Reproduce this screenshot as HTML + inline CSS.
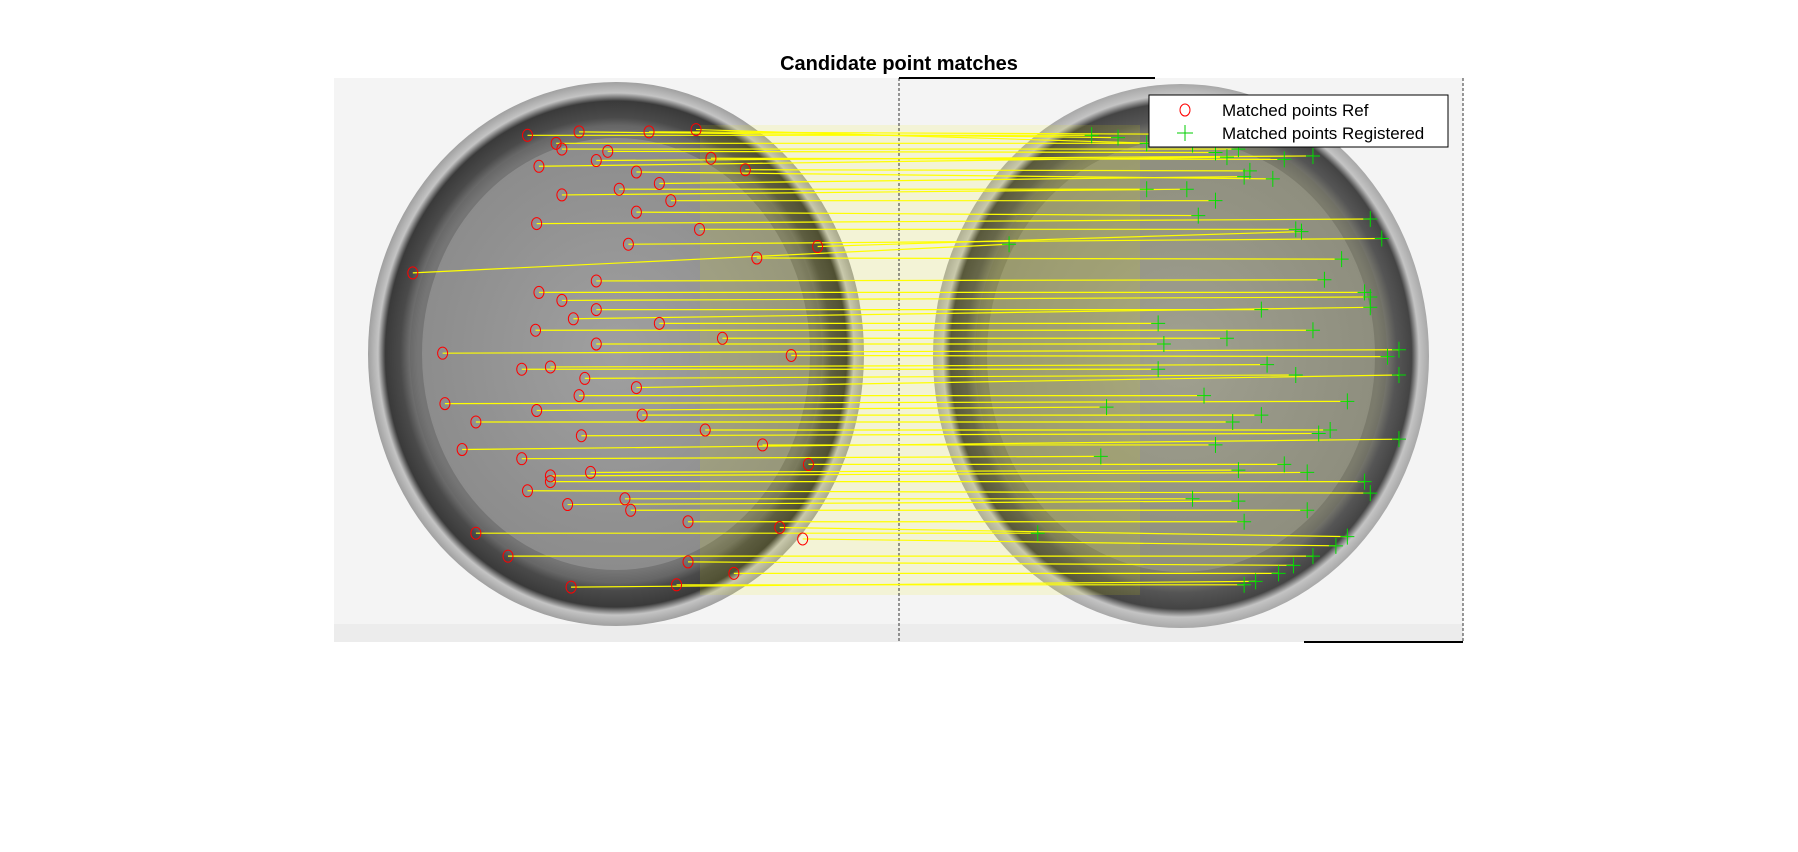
<!DOCTYPE html>
<html><head><meta charset="utf-8"><style>
html,body{margin:0;padding:0;background:#fff;width:1798px;height:852px;overflow:hidden;font-family:"Liberation Sans",Arial,sans-serif}
</style></head><body>
<svg width="1798" height="852" viewBox="0 0 1798 852">
<defs>
<radialGradient id="coinL" cx="0.5" cy="0.5" r="0.5">
<stop offset="0" stop-color="#a0a0a0"/><stop offset="0.8" stop-color="#8c8c8c"/><stop offset="0.87" stop-color="#4a4a4a"/><stop offset="0.93" stop-color="#3a3a3a"/><stop offset="0.96" stop-color="#c4c4c4"/><stop offset="1" stop-color="#a0a0a0"/>
</radialGradient>
<radialGradient id="coinR" cx="0.5" cy="0.5" r="0.5">
<stop offset="0" stop-color="#a0a090"/><stop offset="0.8" stop-color="#8e8e7e"/><stop offset="0.87" stop-color="#555"/><stop offset="0.93" stop-color="#444"/><stop offset="0.96" stop-color="#c4c4c4"/><stop offset="1" stop-color="#a8a8a8"/>
</radialGradient>
</defs>
<text x="899" y="70" text-anchor="middle" font-size="20" font-weight="bold" fill="#000">Candidate point matches</text>
<g>
<rect x="334" y="78" width="1129" height="564" fill="#f4f4f4"/>
<rect x="334" y="624" width="1129" height="18" fill="#ececec"/>
<ellipse cx="616" cy="354" rx="248" ry="272" fill="url(#coinL)"/>
<ellipse cx="616" cy="354" rx="200" ry="222" fill="none" stroke="#666" stroke-width="12" opacity="0.6"/>
<ellipse cx="1181" cy="356" rx="248" ry="272" fill="url(#coinR)"/>
<ellipse cx="1181" cy="356" rx="200" ry="222" fill="none" stroke="#6e6e60" stroke-width="12" opacity="0.6"/>
<rect x="700" y="125" width="440" height="470" fill="#f0f000" opacity="0.12"/>
<line x1="899" y1="78" x2="899" y2="642" stroke="#333" stroke-dasharray="3,2"/>
<line x1="1463" y1="78" x2="1463" y2="642" stroke="#333" stroke-dasharray="3,2"/>
<line x1="899" y1="78" x2="1155" y2="78" stroke="#000" stroke-width="2"/>
<line x1="1304" y1="642" x2="1463" y2="642" stroke="#000" stroke-width="2"/>
</g>
<g id="marks"></g>
<g>
<rect x="1149" y="95" width="299" height="52" fill="#fff" stroke="#000" stroke-width="1"/>
<ellipse cx="1185" cy="110" rx="5" ry="6" fill="none" stroke="red"/>
<text x="1222" y="116" font-size="17" fill="#000">Matched points Ref</text>
<path d="M1177 133 h16 M1185 125 v16" stroke="#0c0"/>
<text x="1222" y="139" font-size="17" fill="#000">Matched points Registered</text>
</g>
</svg>
<script>
const refX=[460,505,566,607,490,470,520,555,490,575,555,468,548,713,360,520,490,500,467,520,386,480,510,555,388,468,415,507,403,455,480,515,460,495,550,600,415,680,443,600,590,498,640,700,485,530,620,650,540,585,610,660,470,520,575,630,690,455,505,560,615,665,705,480,545];
const refY=[118,115,115,113,130,145,140,150,170,160,185,195,213,215,238,245,262,278,288,300,308,320,330,338,352,358,368,380,392,400,415,412,428,440,445,455,465,460,485,490,510,512,500,470,125,132,138,148,165,175,200,225,255,270,282,295,310,322,345,362,375,388,405,420,435];
const regX=[952,975,1015,1040,1080,1070,1145,1110,1035,1085,1045,1195,1205,1135,880,1155,1195,1195,1145,1015,1220,1105,1130,1220,1175,965,1075,1150,1220,960,1140,1080,1195,1080,1140,1085,905,1175,1145,1128,1085,1095,1115,1165,1000,1060,1120,1090,1000,1060,1130,1170,1190,1100,1010,1070,1210,1010,1050,1100,1160,1060,1120,1190,1040];
const regY=[118,120,117,126,130,137,136,156,165,154,188,191,208,202,213,244,259,268,288,300,305,318,327,327,350,355,368,378,383,398,412,410,430,437,445,455,465,468,485,493,510,507,500,476,125,133,139,149,165,175,200,226,255,270,282,295,311,322,345,362,375,388,405,420,435];
const S=1798/1568;
function sx(v){return v*S;}
function sy(v){return v*S;}
const g=document.getElementById('marks');
const NS='http://www.w3.org/2000/svg';
for(let i=0;i<refX.length;i++){
  const l=document.createElementNS(NS,'line');
  l.setAttribute('x1',sx(refX[i]));l.setAttribute('y1',sy(refY[i]));
  l.setAttribute('x2',sx(regX[i]));l.setAttribute('y2',sy(regY[i]));
  l.setAttribute('stroke','#ffff00');l.setAttribute('stroke-width','1.2');
  
  
  g.appendChild(l);
}
for(let i=0;i<refX.length;i++){
  const c=document.createElementNS(NS,'ellipse');
  c.setAttribute('cx',sx(refX[i]));c.setAttribute('cy',sy(refY[i]));
  c.setAttribute('rx',5);c.setAttribute('ry',6);
  c.setAttribute('fill','none');c.setAttribute('stroke','red');
  
  
  g.appendChild(c);
  const p=document.createElementNS(NS,'path');
  const x=sx(regX[i]),y=sy(regY[i]);
  p.setAttribute('d',`M${x-7} ${y} h14 M${x} ${y-8} v16`);
  p.setAttribute('stroke','#00dd00');
  
  
  g.appendChild(p);
}
</script>
</body></html>
